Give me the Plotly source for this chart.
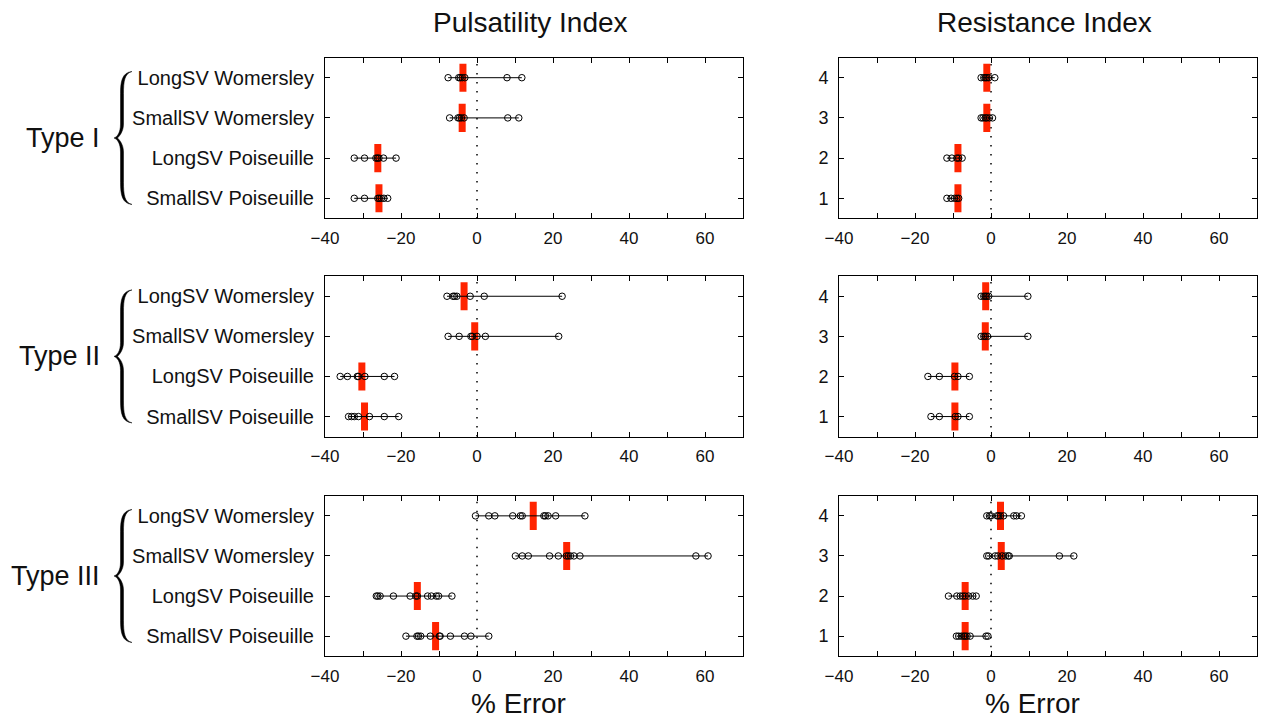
import plotly.graph_objects as go

# ---------------- data ----------------
categories = ["SmallSV Poiseuille", "LongSV Poiseuille", "SmallSV Womersley", "LongSV Womersley"]
positions = [1, 2, 3, 4]
right_labels = ["1", "2", "3", "4"]
row_types = ["Type I", "Type II", "Type III"]
col_titles = ["Pulsatility Index", "Resistance Index"]
x_axis_title = "% Error"
x_ticks = [-40, -30, -20, -10, 0, 10, 20, 30, 40, 50, 60]
x_tick_labels = ["\u221240", "", "\u221220", "", "0", "", "20", "", "40", "", "60"]

# groups ordered by position 1..4 (SmallSV Pois, LongSV Pois, SmallSV Wom, LongSV Wom)
pi_type1 = [
    [-32.3, -29.6, -26.1, -25.7, -25.2, -24.5, -23.5],
    [-32.3, -29.6, -26.6, -26.2, -25.8, -24.6, -21.3],
    [-7.2, -5.0, -4.6, -4.1, -3.4, 8.1, 11.0],
    [-7.6, -4.8, -4.4, -3.9, -3.2, 7.9, 11.8],
]
pi_type1_median = [-25.8, -26.1, -3.9, -3.7]

pi_type2 = [
    [-33.8, -33.0, -32.3, -31.2, -28.3, -24.4, -20.6],
    [-36.0, -34.1, -31.5, -31.2, -29.5, -24.4, -21.7],
    [-7.6, -4.7, -1.6, -1.2, 0.0, 2.2, 21.5],
    [-7.9, -6.3, -5.9, -5.3, -1.8, 1.9, 22.4],
]
pi_type2_median = [-29.6, -30.3, -0.6, -3.4]

pi_type3 = [
    [-18.7, -15.8, -15.4, -14.8, -12.3, -9.9, -9.7, -7.0, -3.3, -1.6, 3.1],
    [-26.5, -26.1, -25.5, -22.0, -17.6, -16.1, -15.7, -13.0, -12.0, -10.7, -10.1, -6.6],
    [10.1, 11.9, 13.5, 19.1, 21.4, 23.5, 24.0, 24.6, 25.5, 27.1, 57.6, 60.8],
    [-0.4, 3.1, 4.7, 9.4, 11.4, 11.9, 17.6, 18.0, 18.7, 20.7, 28.4],
]
pi_type3_median = [-10.9, -15.7, 23.6, 14.8]

ri_type1 = [
    [-11.6, -10.5, -9.6, -9.0, -8.5],
    [-11.6, -10.3, -9.0, -8.5, -7.6],
    [-2.6, -2.1, -1.5, -1.1, -0.4, 0.4],
    [-2.6, -1.9, -1.5, -1.1, -0.6, 1.0],
]
ri_type1_median = [-8.7, -8.7, -1.1, -1.1]

ri_type2 = [
    [-15.8, -13.6, -9.4, -8.7, -5.7],
    [-16.6, -13.6, -9.6, -8.7, -5.7],
    [-2.6, -1.9, -1.5, -0.9, 9.7],
    [-2.6, -1.9, -1.5, -1.1, -0.6, 9.7],
]
ri_type2_median = [-9.5, -9.5, -1.5, -1.4]

ri_type3 = [
    [-9.1, -8.5, -7.8, -7.2, -6.8, -6.3, -5.5, -1.3, -0.8],
    [-11.2, -9.0, -8.1, -7.4, -6.8, -5.9, -4.8, -3.9],
    [-1.1, -0.6, 1.1, 1.8, 2.9, 3.8, 4.5, 4.8, 18.0, 21.8],
    [-1.1, -0.4, 0.0, 1.6, 2.0, 2.5, 3.3, 6.0, 6.7, 8.0],
]
ri_type3_median = [-6.8, -6.8, 2.7, 2.5]

panels = [
    (pi_type1, pi_type1_median), (ri_type1, ri_type1_median),
    (pi_type2, pi_type2_median), (ri_type2, ri_type2_median),
    (pi_type3, pi_type3_median), (ri_type3, ri_type3_median),
]

# ---------------- layout geometry ----------------
W, H = 1263, 722
def px_x(p): return p / W
def px_y(p): return 1 - p / H

col_px = [(325, 743), (839, 1257)]
row_px = [(57.6, 218.4), (276.2, 436.6), (495.8, 656.2)]

ARIAL = "Liberation Sans, Arial, Helvetica, sans-serif"
NUMF = "Liberation Sans, Arial, sans-serif"
RED = "#ff2400"
BAR_HALF = 0.35

fig = go.Figure()
layout = dict(width=W, height=H, margin=dict(l=0, r=0, t=0, b=0, pad=0), autosize=False,
              template="none",
              paper_bgcolor="white", plot_bgcolor="white", showlegend=False)
shapes = []
annotations = []

for i, (groups, medians) in enumerate(panels):
    r, c = divmod(i, 2)
    n = i + 1
    xa = "x" if n == 1 else f"x{n}"
    ya = "y" if n == 1 else f"y{n}"
    # red median bars
    bx, by = [], []
    for pos, m in zip(positions, medians):
        bx += [m, m, None]
        by += [pos - BAR_HALF, pos + BAR_HALF, None]
    fig.add_trace(go.Scatter(x=bx, y=by, mode="lines", xaxis=xa, yaxis=ya,
                             line=dict(color=RED, width=7), hoverinfo="skip"))
    # range lines
    lx, ly = [], []
    for pos, g in zip(positions, groups):
        lx += [min(g), max(g), None]
        ly += [pos, pos, None]
    fig.add_trace(go.Scatter(x=lx, y=ly, mode="lines", xaxis=xa, yaxis=ya,
                             line=dict(color="black", width=1), hoverinfo="skip"))
    # circles
    cx, cy = [], []
    for pos, g in zip(positions, groups):
        cx += g
        cy += [pos] * len(g)
    fig.add_trace(go.Scatter(x=cx, y=cy, mode="markers", xaxis=xa, yaxis=ya,
                             marker=dict(symbol="circle-open", size=6.5, color="black",
                                         line=dict(width=1, color="black"))))
    axkey_x = "xaxis" if n == 1 else f"xaxis{n}"
    axkey_y = "yaxis" if n == 1 else f"yaxis{n}"
    layout[axkey_x] = dict(
        domain=[px_x(col_px[c][0]), px_x(col_px[c][1])], anchor=ya, automargin=False,
        range=[-40, 70], tickmode="array", tickvals=x_ticks, ticktext=x_tick_labels,
        ticks="inside", ticklen=5, tickwidth=1, tickcolor="black",
        showline=True, linecolor="black", linewidth=1, mirror="allticks",
        showgrid=False, zeroline=False, ticklabelstandoff=4,
        tickfont=dict(family=NUMF, size=17, color="#111"))
    layout[axkey_y] = dict(
        domain=[px_y(row_px[r][1]), px_y(row_px[r][0])], anchor=xa, automargin=False,
        range=[0.5, 4.5], tickmode="array", tickvals=positions,
        ticktext=categories if c == 0 else right_labels,
        ticks="inside", ticklen=5, tickwidth=1, tickcolor="black",
        showline=True, linecolor="black", linewidth=1, mirror="allticks",
        showgrid=False, zeroline=False, ticklabelstandoff=6,
        tickfont=dict(family=ARIAL if c == 0 else NUMF, size=20 if c == 0 else 18, color="#111"))
    # dotted zero line
    shapes.append(dict(type="line", xref=xa, yref=f"{ya} domain", x0=0, x1=0, y0=0, y1=1,
                       line=dict(color="black", width=1.5, dash="1.5px,7.5px"), layer="below"))

# column titles and x axis titles
for c, t in enumerate(col_titles):
    xc = (col_px[c][0] + col_px[c][1]) / 2 - 4
    annotations.append(dict(text=t, xref="paper", yref="paper", x=px_x(xc), y=px_y(22),
                            xanchor="center", yanchor="middle", showarrow=False,
                            font=dict(family=ARIAL, size=28, color="#111")))
    annotations.append(dict(text=x_axis_title, xref="paper", yref="paper", x=px_x(xc - 12), y=px_y(703),
                            xanchor="center", yanchor="middle", showarrow=False,
                            font=dict(family=ARIAL, size=28, color="#111")))

# row type labels and braces
def brace_path(cy, tip=132, spine=122, mid=114, h=66.5):
    def P(x, y): return f"{px_x(x):.5f},{px_y(y):.5f}"
    so, si = spine - 1.5, spine + 1.5
    d = (f"M {P(tip, cy - h)} "
         f"C {P(so + 1.5, cy - h + 1)} {P(so, cy - h + 10)} {P(so, cy - h + 22)} "
         f"L {P(so, cy - 14)} "
         f"C {P(so, cy - 5)} {P(mid + 3, cy - 1)} {P(mid, cy)} "
         f"C {P(mid + 3, cy + 1)} {P(so, cy + 5)} {P(so, cy + 14)} "
         f"L {P(so, cy + h - 22)} "
         f"C {P(so, cy + h - 10)} {P(so + 1.5, cy + h - 1)} {P(tip, cy + h)} "
         f"C {P(si + 1, cy + h - 2)} {P(si, cy + h - 10)} {P(si, cy + h - 22)} "
         f"L {P(si, cy + 14)} "
         f"C {P(si, cy + 6)} {P(mid + 5, cy + 1.5)} {P(mid + 3.5, cy)} "
         f"C {P(mid + 5, cy - 1.5)} {P(si, cy - 6)} {P(si, cy - 14)} "
         f"L {P(si, cy - h + 22)} "
         f"C {P(si, cy - h + 10)} {P(si + 1, cy - h + 2)} {P(tip, cy - h)} Z")
    return d

for r, t in enumerate(row_types):
    cy = (row_px[r][0] + row_px[r][1]) / 2
    annotations.append(dict(text=t, xref="paper", yref="paper", x=px_x(102), y=px_y(cy),
                            xanchor="right", yanchor="middle", showarrow=False,
                            font=dict(family=ARIAL, size=27, color="#111")))
    shapes.append(dict(type="path", xref="paper", yref="paper", path=brace_path(cy),
                       fillcolor="black", line=dict(width=0.5, color="black")))

layout["shapes"] = shapes
layout["annotations"] = annotations
fig.update_layout(**layout)
fig.write_html("out.html")
